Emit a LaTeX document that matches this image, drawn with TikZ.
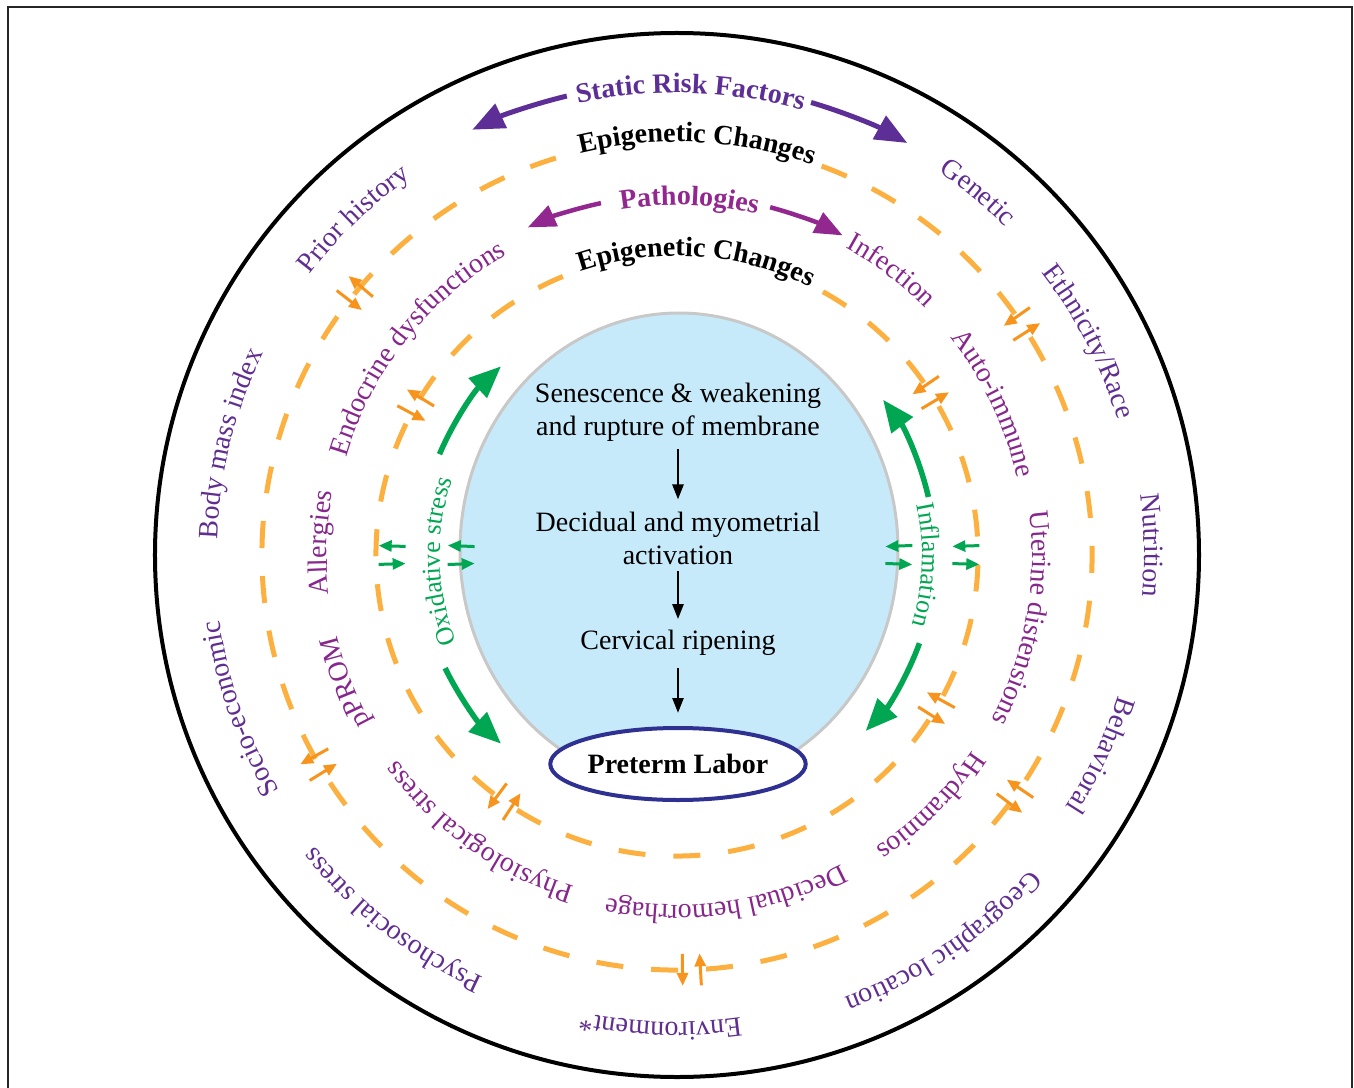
\documentclass[tikz,border=0pt]{standalone}
\usepackage{fontspec}
\setmainfont{Liberation Serif}
\usetikzlibrary{arrows.meta,decorations.text,shapes.geometric}

\definecolor{opurple}{RGB}{96,45,145}
\definecolor{ipurple}{RGB}{135,38,140}
\definecolor{srfpurple}{RGB}{92,46,150}
\definecolor{pathpurple}{RGB}{146,39,143}
\definecolor{mygreen}{RGB}{0,166,81}
\definecolor{dashorange}{RGB}{251,176,64}
\definecolor{arrorange}{RGB}{247,148,29}
\definecolor{lightblue}{RGB}{199,234,250}
\definecolor{ringgray}{RGB}{200,200,200}
\definecolor{navyblue}{RGB}{46,49,146}

\newcommand\labfont{\fontsize{28}{33}\selectfont}
\newcommand\grfont{\fontsize{26}{30}\selectfont}
\newcommand\arclabel[4]{%
  \path[decorate,decoration={text along path,text align=center,text={|#3|#4}}]
    ({#1+70}:#2) arc[start angle={#1+70},end angle={#1-70},radius=#2];}
\newcommand\pairarrows[4]{%
  \pgfmathsetmacro\pairda{9/(#2)*180/pi}%
  \draw[pairarr,#3] ({#1-\pairda}:{#2-#4}) -- ({#1-\pairda}:{#2+#4});
  \draw[pairarr,#3] ({#1+\pairda}:{#2+#4}) -- ({#1+\pairda}:{#2-#4});}

\tikzset{
  ring/.style={dashorange,line width=5pt,dash pattern=on 27pt off 28pt},
  pairarr/.style={line width=3pt,-{Triangle[length=13pt,width=11pt]}},
  greenarr/.style={mygreen,line width=5.5pt,-{Triangle[length=32pt,width=26pt]}},
  srfarr/.style={srfpurple,line width=5pt,-{Triangle[length=32pt,width=26pt]}},
  patharr/.style={pathpurple,line width=4.5pt,-{Triangle[length=28pt,width=22pt]}},
  flow/.style={black,line width=2.5pt,-{Triangle[length=15pt,width=11pt]}},
  ctext/.style={align=center,font=\labfont,inner sep=0pt},
}

\begin{document}
\begin{tikzpicture}[x=1pt,y=1pt]
\useasboundingbox (-677,-532) rectangle (677,555);
% frame
\draw[line width=2pt,black!85] (-669,-545) -- (-669,548) -- (675,548) -- (675,-545);
% outer circle
\draw[line width=4pt] (0,0) circle[radius=522];
% dashed rings
\draw[ring] (69.6:415) arc[start angle=69.6,end angle=-254.6,radius=415];
\draw[ring] (61:301) arc[start angle=61,end angle=-248,radius=301];
% central ellipse
\draw[ringgray,line width=3pt,fill=lightblue] (2,5) ellipse[x radius=219,y radius=237];

% orange arrow pairs
\pairarrows{140.9}{415}{arrorange}{16}
\pairarrows{33.8}{415}{arrorange}{16}
\pairarrows{-35.5}{415}{arrorange}{16}
\pairarrows{-88}{415}{arrorange}{16}
\pairarrows{-149.7}{415}{arrorange}{16}
\pairarrows{150.2}{301}{arrorange}{16}
\pairarrows{32.6}{301}{arrorange}{16}
\pairarrows{-30.5}{301}{arrorange}{16}
\pairarrows{-125}{301}{arrorange}{16}
% green arrow pairs
\pairarrows{180}{285}{mygreen}{13.5}
\pairarrows{180}{216}{mygreen}{13.5}
\pairarrows{0}{289}{mygreen}{13.5}
\pairarrows{0}{222}{mygreen}{13.5}

% green curved arrows
\draw[greenarr] (157:258) arc[start angle=157,end angle=133,radius=258];
\draw[greenarr] (206:258) arc[start angle=206,end angle=227,radius=258];
\draw[greenarr] (13:258) arc[start angle=13,end angle=37,radius=258];
\draw[greenarr] (-20:258) arc[start angle=-20,end angle=-43,radius=258];

% purple curved arrows
\draw[srfarr] (103.5:472) arc[start angle=103.5,end angle=115.7,radius=472];
\draw[srfarr] (73.5:472) arc[start angle=73.5,end angle=60.8,radius=472];
\draw[patharr] (102.2:360) arc[start angle=102.2,end angle=114.5,radius=360];
\draw[patharr] (75:360) arc[start angle=75,end angle=62.6,radius=360];

% headings
\arclabel{88.3}{462}{\labfont\bfseries\color{srfpurple}}{Static Risk Factors}
\arclabel{87.2}{413}{\labfont\bfseries\color{black}}{Epigenetic Changes}
\arclabel{88}{350}{\labfont\bfseries\color{pathpurple}}{Pathologies}
\arclabel{86.2}{299}{\labfont\bfseries\color{black}}{Epigenetic Changes}

% outer labels
\arclabel{133.9}{462}{\labfont\color{opurple}}{Prior history}
\arclabel{50.3}{464}{\labfont\color{opurple}}{Genetic}
\arclabel{27.4}{461}{\labfont\color{opurple}}{Ethnicity/Race}
\arclabel{1.2}{467}{\labfont\color{opurple}}{Nutrition}
\arclabel{-25.3}{463}{\labfont\color{opurple}}{Behavioral}
\arclabel{-55.5}{473}{\labfont\color{opurple}}{Geographic location}
\arclabel{-92}{467}{\labfont\color{opurple}}{Environment*}
\arclabel{-127.9}{465}{\labfont\color{opurple}}{Psychosocial stress}
\arclabel{-160.6}{462}{\labfont\color{opurple}}{Socio-economic}
\arclabel{166}{460}{\labfont\color{opurple}}{Body mass index}

% inner labels
\arclabel{141.5}{345}{\labfont\color{ipurple}}{Endocrine dysfunctions}
\arclabel{53}{350}{\labfont\color{ipurple}}{Infection}
\arclabel{25.6}{349}{\labfont\color{ipurple}}{Auto-immune}
\arclabel{-10.3}{355}{\labfont\color{ipurple}}{Uterine distensions}
\arclabel{-44.7}{354}{\labfont\color{ipurple}}{Hydramnios}
\arclabel{-81.8}{350}{\labfont\color{ipurple}}{Decidual hemorrhage}
\arclabel{-125.5}{347}{\labfont\color{ipurple}}{Physiological stress}
\arclabel{-159}{349}{\labfont\color{ipurple}}{pPROM}
\arclabel{178}{350}{\labfont\color{ipurple}}{Allergies}

% green labels
\arclabel{181.6}{237}{\grfont\color{mygreen}}{Oxidative stress}
\arclabel{-2.3}{245}{\grfont\color{mygreen}}{Inflamation}

% central flow
\node[ctext] (n1) at (1,143) {Senescence \& weakening\\and rupture of membrane};
\node[ctext] (n2) at (1,17) {Decidual and myometrial\\activation};
\node[ctext] (n3) at (1,-88) {Cervical ripening};
\node[draw=navyblue,line width=4pt,fill=white,ellipse,minimum width=254pt,minimum height=72pt,inner sep=0pt,font=\labfont\bfseries] (pl) at (1,-209) {Preterm Labor};
\draw[flow,shorten <=8pt,shorten >=12pt] (n1.south) -- (n2.north);
\draw[flow,shorten <=6pt,shorten >=11pt] (n2.south) -- (n3.north);
\draw[flow,shorten <=12pt,shorten >=13pt] (n3.south) -- (pl.north);
\end{tikzpicture}
\end{document}
